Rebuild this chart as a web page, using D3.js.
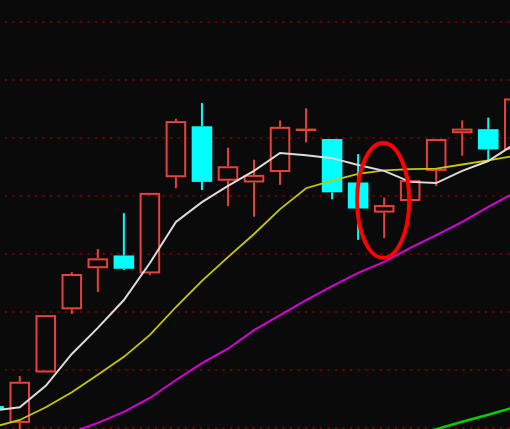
<!DOCTYPE html>
<html>
<head>
<meta charset="utf-8">
<script src="https://cdn.jsdelivr.net/npm/d3@7"></script>
<style>
  body { margin: 0; background: #0a0a0a; }
  svg { display: block; }
</style>
</head>
<body>
<div id="chart"></div>
<script>
// Candlestick chart with moving averages

const width = 510
const height = 429

// Trading days (only the index matters here)
const days = d3.range(1, 22).map(String)

// OHLC
const open  = [13.37, 13.08, 13.95, 15.04, 15.75, 15.97, 15.66, 17.32, 18.20, 17.26, 17.23, 17.41, 18.14, 17.98, 17.23, 16.71, 16.91, 17.43, 18.08, 18.15, 17.79]
const close = [13.31, 13.79, 14.94, 15.65, 15.92, 15.74, 17.05, 18.29, 17.24, 17.51, 17.36, 18.19, 18.16, 17.06, 16.78, 16.84, 17.27, 17.98, 18.16, 17.80, 18.68]
const high  = [13.37, 13.89, 14.94, 15.68, 16.08, 16.70, 17.05, 18.33, 18.60, 17.83, 17.62, 18.30, 18.51, 17.98, 17.72, 16.97, 17.27, 17.98, 18.30, 18.35, 18.75]
const low   = [13.31, 12.87, 13.95, 14.96, 15.34, 15.72, 15.63, 17.13, 17.10, 16.82, 16.64, 17.19, 17.92, 16.94, 16.24, 16.27, 16.91, 17.17, 17.69, 17.62, 17.70]

// Moving averages
const ma5  = [13.29, 13.35, 13.72, 14.27, 14.72, 15.20, 15.84, 16.55, 16.89, 17.17, 17.43, 17.74, 17.70, 17.65, 17.53, 17.43, 17.24, 17.22, 17.43, 17.60, 17.89]
const ma10 = [13.01, 13.13, 13.35, 13.61, 13.91, 14.22, 14.60, 15.08, 15.53, 15.94, 16.34, 16.77, 17.13, 17.26, 17.38, 17.44, 17.46, 17.47, 17.54, 17.61, 17.69]
const ma20 = [12.44, 12.61, 12.77, 12.92, 13.08, 13.27, 13.51, 13.82, 14.11, 14.36, 14.68, 14.94, 15.20, 15.44, 15.67, 15.86, 16.10, 16.32, 16.55, 16.81, 17.05]
const ma60 = [null, null, null, null, null, null, null, null, null, null, null, null, null, 12.49, 12.61, 12.73, 12.85, 12.97, 13.10, 13.22, 13.35]

// Price grid levels
const gridLevels = [13, 14, 15, 16, 17, 18, 19, 20]

// Highlighted candle (index) and the price span of the mark
const markDay = 15
const markPrice = 16.92
const markSpan = 0.99

const svg = d3.select('#chart')
  .append('svg')
  .attr('width', width)
  .attr('height', height)

svg.append('rect')
  .attr('width', width)
  .attr('height', height)
  .attr('fill', '#0a0a0a')

const x = d3.scaleBand()
  .domain(days)
  .range([-19.3, 527.3])
  .paddingInner(0.21)
  .paddingOuter(0.105)

const y = d3.scaleLinear()
  .domain([13, 20])
  .range([427.5, 22])

const bw = x.bandwidth()
const cx = (i) => x(days[i]) + bw / 2

// Grid
svg.append('g').selectAll('line')
  .data(gridLevels)
  .enter().append('line')
  .attr('x1', 5)
  .attr('x2', width)
  .attr('y1', (d) => Math.round(y(d)))
  .attr('y2', (d) => Math.round(y(d)))
  .attr('stroke', '#700000')
  .attr('stroke-width', 2)
  .attr('stroke-dasharray', '2 5.5')

const candles = days.map((d, i) => ({
  day: d, i, open: open[i], close: close[i], high: high[i], low: low[i],
  up: close[i] >= open[i]
}))

const red = '#e8403c'
const cyan = '#00ffff'

const g = svg.append('g')

// Wicks
g.selectAll('.wick-top')
  .data(candles)
  .enter().append('line')
  .attr('x1', (d) => cx(d.i))
  .attr('x2', (d) => cx(d.i))
  .attr('y1', (d) => y(d.high))
  .attr('y2', (d) => y(Math.max(d.open, d.close)))
  .attr('stroke', (d) => d.up ? red : cyan)
  .attr('stroke-width', 2)

g.selectAll('.wick-bottom')
  .data(candles)
  .enter().append('line')
  .attr('x1', (d) => cx(d.i))
  .attr('x2', (d) => cx(d.i))
  .attr('y1', (d) => y(Math.min(d.open, d.close)))
  .attr('y2', (d) => y(d.low))
  .attr('stroke', (d) => d.up ? red : cyan)
  .attr('stroke-width', 2)

// Bodies
g.selectAll('.body')
  .data(candles)
  .enter().append('rect')
  .attr('x', (d) => d.up ? x(d.day) + 1 : x(d.day))
  .attr('width', (d) => d.up ? bw - 2 : bw)
  .attr('y', (d) => {
    const top = y(Math.max(d.open, d.close))
    return d.up ? top + 1 : top
  })
  .attr('height', (d) => {
    const h = Math.abs(y(d.open) - y(d.close))
    return d.up ? Math.max(h - 2, 0.5) : Math.max(h, 1)
  })
  .attr('fill', (d) => d.up ? 'none' : cyan)
  .attr('stroke', (d) => d.up ? red : 'none')
  .attr('stroke-width', 2)

// Moving average lines
const maLine = d3.line()
  .defined((v) => v != null)
  .x((v, i) => cx(i))
  .y((v) => y(v))

const series = [
  { values: ma60, color: '#00d000', w: 2.5 },
  { values: ma20, color: '#d800d8', w: 2 },
  { values: ma10, color: '#c8c800', w: 1.8 },
  { values: ma5, color: '#dcdcdc', w: 2 }
]

svg.append('g').selectAll('path')
  .data(series)
  .enter().append('path')
  .attr('d', (d) => maLine(d.values))
  .attr('fill', 'none')
  .attr('stroke', (d) => d.color)
  .attr('stroke-width', (d) => d.w)

// Red ring around the highlighted candle
svg.append('ellipse')
  .attr('cx', cx(markDay) - 1)
  .attr('cy', y(markPrice))
  .attr('rx', x.step())
  .attr('ry', y(markPrice - markSpan) - y(markPrice))
  .attr('fill', 'none')
  .attr('stroke', '#ff0000')
  .attr('stroke-width', 4)
</script>
</body>
</html>
